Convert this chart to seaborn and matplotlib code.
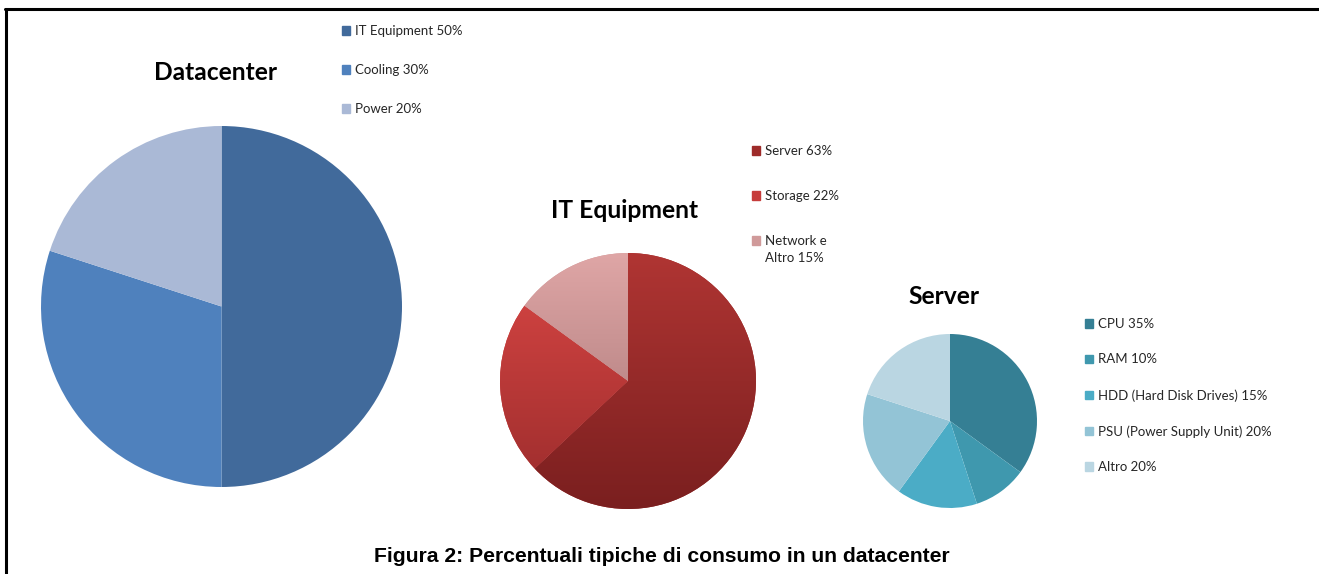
import numpy as np
import matplotlib
matplotlib.use("Agg")
import matplotlib.pyplot as plt
import seaborn as sns
from matplotlib.patches import Patch, Rectangle
from matplotlib.lines import Line2D
from matplotlib.colors import LinearSegmentedColormap
from matplotlib.legend_handler import HandlerPatch

# Data
dc_labels = ["IT Equipment 50%", "Cooling 30%", "Power 20%"]
dc_values = [50, 30, 20]
dc_colors = ["#416A9B", "#4F81BD", "#AAB9D6"]

it_labels = ["Server 63%", "Storage 22%", "Network e\nAltro 15%"]
it_values = [63, 22, 15]
it_colors = ["#9E2B2A", "#C63C3B", "#D09A9A"]
it_top = ["#B03533", "#DA4745", "#DFA6A6"]
it_bottom = ["#7A1F1F", "#992B2B", "#A07070"]

srv_labels = ["CPU 35%", "RAM 10%", "HDD (Hard Disk Drives) 15%",
              "PSU (Power Supply Unit) 20%", "Altro 20%"]
srv_values = [35, 10, 15, 20, 20]
srv_colors = ["#357F94", "#3F98AE", "#4BACC6", "#93C4D6", "#BAD6E2"]

sns.set_theme(style="white")
plt.rcParams["font.family"] = ["Lato", "DejaVu Sans"]

W, H = 1319, 574
fig = plt.figure(figsize=(W / 100, H / 100), dpi=100)
fig.patch.set_facecolor("white")


def pie_axes(cx, cy, r):
    return fig.add_axes([(cx - r) / W, 1 - (cy + r) / H, 2 * r / W, 2 * r / H])


def draw_pie(ax, values, colors):
    wedges, _ = ax.pie(values, colors=colors, startangle=90, counterclock=False,
                       radius=1, wedgeprops=dict(linewidth=0))
    ax.set_xlim(-1, 1)
    ax.set_ylim(-1, 1)
    ax.set_aspect("equal")
    ax.axis("off")
    return wedges


def legend(handles, labels, x, y, spacing, handler_map=None):
    return fig.legend(handles, labels, loc="upper left", bbox_to_anchor=(x / W, 1 - y / H),
                      frameon=False, fontsize=9.5, handlelength=0.6, handleheight=0.6,
                      handletextpad=0.35, labelspacing=spacing, borderpad=0, borderaxespad=0,
                      handler_map=handler_map)


def upper_patch(legend, orig_handle, xdescent, ydescent, width, height, fontsize):
    return Rectangle((-xdescent, -ydescent + 0.72 * fontsize), width, height)


# Datacenter
ax1 = pie_axes(221.5, 306.5, 180.5)
draw_pie(ax1, dc_values, dc_colors)
fig.text(216 / W, 1 - 72 / H, "Datacenter", ha="center", va="center",
         fontsize=17.7, fontweight="bold", color="black")
legend([Patch(color=c) for c in dc_colors], dc_labels, 342, 25, 2.05)

# IT Equipment (vertical gradient like the original)
ax2 = pie_axes(628, 381, 128)
wedges = draw_pie(ax2, it_values, it_colors)
grad = np.linspace(0, 1, 256).reshape(-1, 1)
for w, top, bot in zip(wedges, it_top, it_bottom):
    cmap = LinearSegmentedColormap.from_list("g", [top, bot])
    im = ax2.imshow(grad, cmap=cmap, extent=(-1, 1, -1, 1), aspect="auto",
                    origin="upper", zorder=2)
    im.set_clip_path(w)
ax2.set_xlim(-1, 1)
ax2.set_ylim(-1, 1)
fig.text(625 / W, 1 - 210 / H, "IT Equipment", ha="center", va="center",
         fontsize=17.7, fontweight="bold", color="black")
it_handles = [Patch(color=c) for c in it_colors]
leg = legend(it_handles, it_labels, 752, 145, 2.5,
             handler_map={it_handles[2]: HandlerPatch(patch_func=upper_patch)})
leg.get_texts()[2].set_linespacing(1.5)

# Server
ax3 = pie_axes(950, 421, 87)
draw_pie(ax3, srv_values, srv_colors)
fig.text(944 / W, 1 - 296 / H, "Server", ha="center", va="center",
         fontsize=17.7, fontweight="bold", color="black")
legend([Patch(color=c) for c in srv_colors], srv_labels, 1085, 318, 1.78)

# Caption
fig.text(662 / W, 1 - 556 / H, "Figura 2: Percentuali tipiche di consumo in un datacenter",
         ha="center", va="center", fontsize=15.2, fontweight="bold",
         family="Liberation Sans", color="black")

# Frame lines (top and left)
fig.add_artist(Line2D([5 / W, 1], [1 - 9 / H, 1 - 9 / H], color="black", linewidth=2.2))
fig.add_artist(Line2D([6 / W, 6 / W], [0, 1 - 9 / H], color="black", linewidth=2.2))

fig.savefig("out.png", dpi=100, facecolor="white")
